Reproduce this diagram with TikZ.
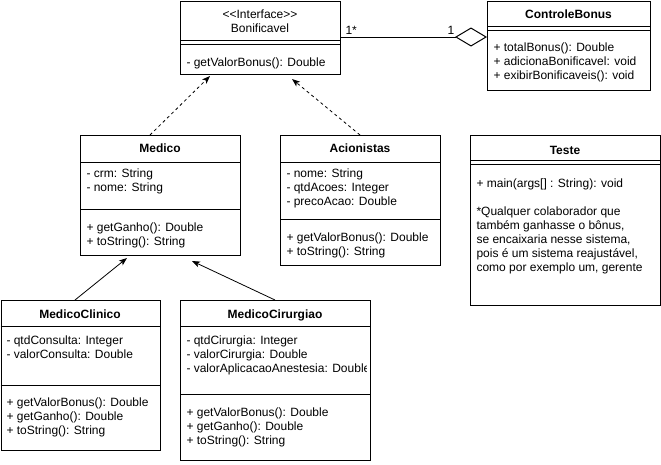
\documentclass[tikz,border=0pt]{standalone}
\usepackage{fontspec}
\setmainfont{Liberation Sans}
\usetikzlibrary{arrows.meta,calc}
\begin{document}
\begin{tikzpicture}[x=1pt,y=-1pt,line width=1pt,
  every node/.style={font=\fontsize{12}{14}\selectfont,inner sep=0pt},
  box/.style={draw,rectangle,anchor=north west,inner sep=0pt},
  txt/.style={anchor=base west},
  ctr/.style={anchor=base},
  ttl/.style={anchor=base,font=\fontsize{12}{14}\selectfont\bfseries},
  realize/.style={dash pattern=on 3pt off 3pt,line width=0.8pt,-{Stealth[length=8pt,width=6pt,inset=2pt]}},
  inherit/.style={line width=0.8pt,-{Stealth[length=8pt,width=6pt,inset=2pt]}}]
\useasboundingbox (0,0) rectangle (661,464);

% Bonificavel
\node[box,minimum width=160pt,minimum height=73.5pt] (bon) at (180,0.5) {};
\draw ($(bon.north west)+(0,39.5)$) -- ($(bon.north east)+(0,39.5)$);
\draw ($(bon.north west)+(0,43.5)$) -- ($(bon.north east)+(0,43.5)$);
\node[ctr] (bonst) at (260,18) {<\kern0pt<Interface>\kern0pt>};
\node[ctr] (bonname) at (260,32) {Bonificavel};
\node[txt] (bonm) at (186,66) {- getValorBonus(): Double};

% ControleBonus
\node[box,minimum width=163pt,minimum height=89.5pt] (ctrl) at (487,0.5) {};
\draw ($(ctrl.north west)+(0,25.5)$) -- ($(ctrl.north east)+(0,25.5)$);
\draw ($(ctrl.north west)+(0,29.5)$) -- ($(ctrl.north east)+(0,29.5)$);
\node[ttl] (ctrlname) at (568.5,18) {ControleBonus};
\node[txt] (ctrlm1) at (493,51.5) {+ totalBonus(): Double};
\node[txt] (ctrlm2) at (493,65.5) {+ adicionaBonificavel: void};
\node[txt] (ctrlm3) at (493,79.5) {+ exibirBonificaveis(): void};

% association
\draw[-{Diamond[open,length=32pt,width=19pt]}] ($(bon.north east)+(0,36.5)$) -- ($(ctrl.north west)+(0,36.5)$);
\node[txt] (m1) at (345,34) {1*};
\node[txt] (m2) at (447,34) {1};

% Medico
\node[box,minimum width=160pt,minimum height=120pt] (med) at (80,135) {};
\draw ($(med.north west)+(0,27)$) -- ($(med.north east)+(0,27)$);
\draw ($(med.north west)+(0,74)$) -- ($(med.north east)+(0,74)$);
\node[ttl] (medname) at (160,152) {Medico};
\node[txt] (meda1) at (86,177) {- crm: String};
\node[txt] (meda2) at (86,191) {- nome: String};
\node[txt] (medm1) at (86,231) {+ getGanho(): Double};
\node[txt] (medm2) at (86,245) {+ toString(): String};

% Acionistas
\node[box,minimum width=160pt,minimum height=130pt] (aci) at (280,135) {};
\draw ($(aci.north west)+(0,27)$) -- ($(aci.north east)+(0,27)$);
\draw ($(aci.north west)+(0,84)$) -- ($(aci.north east)+(0,84)$);
\node[ttl] (aciname) at (360,152) {Acionistas};
\node[txt] (acia1) at (286,177) {- nome: String};
\node[txt] (acia2) at (286,191) {- qtdAcoes: Integer};
\node[txt] (acia3) at (286,205) {- precoAcao: Double};
\node[txt] (acim1) at (286,241) {+ getValorBonus(): Double};
\node[txt] (acim2) at (286,255) {+ toString(): String};

% Teste
\node[box,minimum width=190pt,minimum height=170pt] (tst) at (470,135) {};
\draw ($(tst.north west)+(0,25)$) -- ($(tst.north east)+(0,25)$);
\draw ($(tst.north west)+(0,29)$) -- ($(tst.north east)+(0,29)$);
\node[ttl] (tstname) at (565,154) {Teste};
\node[txt] (tstm) at (476,187) {+ main(args[] : String): void};
\node[txt] (tstn1) at (476,215) {*Qualquer colaborador que};
\node[txt] (tstn2) at (476,229) {também ganhasse o bônus,};
\node[txt] (tstn3) at (476,243) {se encaixaria nesse sistema,};
\node[txt] (tstn4) at (476,257) {pois é um sistema reajustável,};
\node[txt] (tstn5) at (476,271) {como por exemplo um, gerente};

% MedicoClinico
\node[box,minimum width=159.5pt,minimum height=150pt] (cli) at (0.5,300) {};
\draw ($(cli.north west)+(0,26)$) -- ($(cli.north east)+(0,26)$);
\draw ($(cli.north west)+(0,85)$) -- ($(cli.north east)+(0,85)$);
\node[ttl] (cliname) at (80,318) {MedicoClinico};
\node[txt] (clia1) at (6,344) {- qtdConsulta: Integer};
\node[txt] (clia2) at (6,358) {- valorConsulta: Double};
\node[txt] (clim1) at (6,406) {+ getValorBonus(): Double};
\node[txt] (clim2) at (6,420) {+ getGanho(): Double};
\node[txt] (clim3) at (6,434) {+ toString(): String};

% MedicoCirurgiao
\node[box,minimum width=190pt,minimum height=160pt] (cir) at (180,300) {};
\draw ($(cir.north west)+(0,26)$) -- ($(cir.north east)+(0,26)$);
\draw ($(cir.north west)+(0,94)$) -- ($(cir.north east)+(0,94)$);
\node[ttl] (cirname) at (275,318) {MedicoCirurgiao};
\begin{scope}
\clip (180,300) rectangle (366,460);
\node[txt] (cira1) at (186,344) {- qtdCirurgia: Integer};
\node[txt] (cira2) at (186,358) {- valorCirurgia: Double};
\node[txt] (cira3) at (186,372) {- valorAplicacaoAnestesia: Double};
\end{scope}
\node[txt] (cirm1) at (186,416) {+ getValorBonus(): Double};
\node[txt] (cirm2) at (186,430) {+ getGanho(): Double};
\node[txt] (cirm3) at (186,444) {+ toString(): String};

% realizations
\draw[realize] ($(med.north west)+(70,0)$) -- ($(bon.south west)+(30,1)$);
\draw[realize] ($(aci.north west)+(80,0)$) -- ($(bon.south west)+(112,4)$);
% inheritance
\draw[inherit] ($(cli.north west)+(74.5,0)$) -- ($(med.south west)+(47,2)$);
\draw[inherit] ($(cir.north west)+(95,0)$) -- ($(med.south west)+(112,5)$);
\end{tikzpicture}
\end{document}
